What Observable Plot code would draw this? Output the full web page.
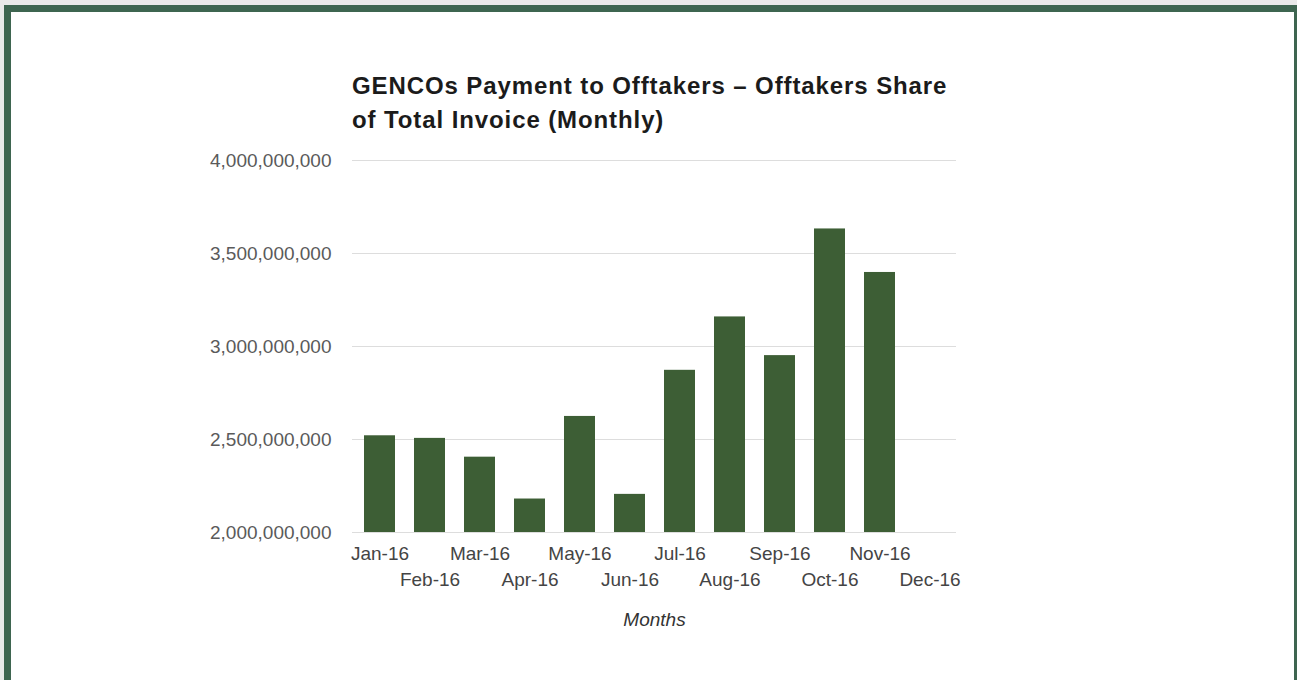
<!DOCTYPE html>
<html>
<head>
<meta charset="utf-8">
<script src="https://cdn.jsdelivr.net/npm/d3@7"></script>
<script src="https://cdn.jsdelivr.net/npm/@observablehq/plot@0.6"></script>
<style>
  html, body { margin: 0; padding: 0; background: #e9e9e9; overflow: hidden; width: 1297px; height: 680px; }
  #frame { position: absolute; left: 4px; top: 5px; width: 1297px; height: 720px; background: #fff;
           border: 7px solid #3e6550; box-sizing: border-box; }
  #title { position: absolute; left: 352px; top: 68.7px; white-space: nowrap;
           font: bold 24px "Liberation Sans", Arial, sans-serif; line-height: 34px; color: #1b1b1b; letter-spacing: 0.9px; }
  #chart { position: absolute; left: 150px; top: 140px; }
</style>
</head>
<body>
<div id="frame"></div>
<div id="title">GENCOs Payment to Offtakers – Offtakers Share<br>of Total Invoice (Monthly)</div>
<div id="chart"></div>
<script>
const months = ["Jan-16", "Feb-16", "Mar-16", "Apr-16", "May-16", "Jun-16",
                "Jul-16", "Aug-16", "Sep-16", "Oct-16", "Nov-16", "Dec-16"];
const values = [2520000000, 2506000000, 2405000000, 2180000000, 2624000000, 2205000000,
                2872000000, 3159000000, 2951000000, 3632000000, 3398000000];
const yTicks = [2000000000, 2500000000, 3000000000, 3500000000, 4000000000];
const xTitle = "Months";

const data = values.map((v, i) => ({month: months[i], value: v}));
const rowA = months.filter((d, i) => i % 2 === 0);
const rowB = months.filter((d, i) => i % 2 === 1);

const chart = Plot.plot({
  width: 850, height: 520,
  marginLeft: 202, marginRight: 44, marginTop: 20, marginBottom: 128,
  style: {fontFamily: "'Liberation Sans', Arial, sans-serif", fontSize: "19px", background: "transparent", overflow: "visible"},
  x: {type: "band", domain: months, paddingInner: 0.39, paddingOuter: 0.195, axis: null},
  y: {domain: [yTicks[0], yTicks[yTicks.length - 1]], axis: null},
  marks: [
    Plot.ruleY(yTicks, {stroke: "#dddddd", strokeWidth: 1}),
    Plot.barY(data, {x: "month", y1: yTicks[0], y2: "value", fill: "#3d5e35"}),
    Plot.axisY({ticks: yTicks, tickFormat: d3.format(","), tickSize: 0, tickPadding: 21, color: "#5a5a5a", label: null, fontSize: 19}),
    Plot.axisX({ticks: rowA, tickSize: 0, tickPadding: 14, color: "#444", label: null, fontSize: 19}),
    Plot.axisX({ticks: rowB, tickSize: 0, tickPadding: 40, color: "#444", label: null, fontSize: 19}),
    Plot.text([xTitle], {text: d => d, frameAnchor: "bottom", dy: 93, fontStyle: "italic", fill: "#333", fontSize: 19})
  ]
});
document.getElementById("chart").appendChild(chart);
</script>
</body>
</html>
